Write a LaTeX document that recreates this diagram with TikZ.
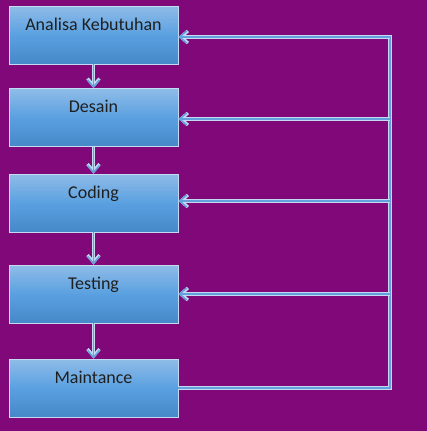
\documentclass[tikz,border=0pt]{standalone}
\usepackage{fontspec}
\setmainfont{Carlito}
\usetikzlibrary{arrows.meta}
\definecolor{bg}{RGB}{128,8,120}
\definecolor{boxtop}{RGB}{143,188,232}
\definecolor{boxmid}{RGB}{90,160,224}
\definecolor{boxbot}{RGB}{70,136,200}
\definecolor{boxedge}{RGB}{195,218,242}
\definecolor{linelight}{RGB}{195,218,242}
\definecolor{linemid}{RGB}{100,160,222}
\begin{document}
\begin{tikzpicture}[x=1pt,y=-1pt,
  stagebox/.style={rectangle, minimum width=169pt, minimum height=58pt, draw=boxedge, line width=0.9pt,
    top color=boxtop, bottom color=boxbot, middle color=boxmid, inner sep=0pt},
  stagetext/.style={anchor=base, font=\fontsize{18}{20}\selectfont, text=black!88, inner sep=0pt},
  flow/.style={line width=1.5pt, draw=linemid, -{Straight Barb[length=7pt,width=12pt]},
    preaction={draw=linelight, line width=3.2pt, -{Straight Barb[length=7pt,width=12pt]}}},
  feed/.style={line width=1.5pt, draw=linemid,
    preaction={draw=linelight, line width=3.2pt}},
]
\fill[bg] (0,0) rectangle (427,431);
\useasboundingbox (0,0) rectangle (427,431);

\node[stagebox] (a) at (93.5,35) {};
\node[stagebox] (b) at (93.5,117.5) {};
\node[stagebox] (c) at (93.5,203) {};
\node[stagebox] (d) at (93.5,294) {};
\node[stagebox] (e) at (93.5,388) {};

\node[stagetext] (ta) at ([yshift=-24.5pt]a.north) {Analisa Kebutuhan};
\node[stagetext] (tb) at ([yshift=-24.5pt]b.north) {Desain};
\node[stagetext] (tc) at ([yshift=-24.5pt]c.north) {Coding};
\node[stagetext] (td) at ([yshift=-24.5pt]d.north) {Testing};
\node[stagetext] (te) at ([yshift=-24.5pt]e.north) {Maintance};

\draw[flow] (a.south) -- (b.north);
\draw[flow] (b.south) -- (c.north);
\draw[flow] (c.south) -- (d.north);
\draw[flow] (d.south) -- (e.north);

\coordinate (c1) at (390,37);
\coordinate (c2) at (390,119);
\coordinate (c3) at (390,201);
\coordinate (c4) at (390,294);
\coordinate (c5) at (390,388);

\draw[feed, line join=miter] (e.east) -- (c5) -- (c1) -- ([xshift=8pt]a.east |- c1);
\draw[flow] (c1) -- (a.east |- c1);
\draw[flow] (c2) -- (b.east |- c2);
\draw[flow] (c3) -- (c.east |- c3);
\draw[flow] (c4) -- (d.east |- c4);
\end{tikzpicture}
\end{document}
